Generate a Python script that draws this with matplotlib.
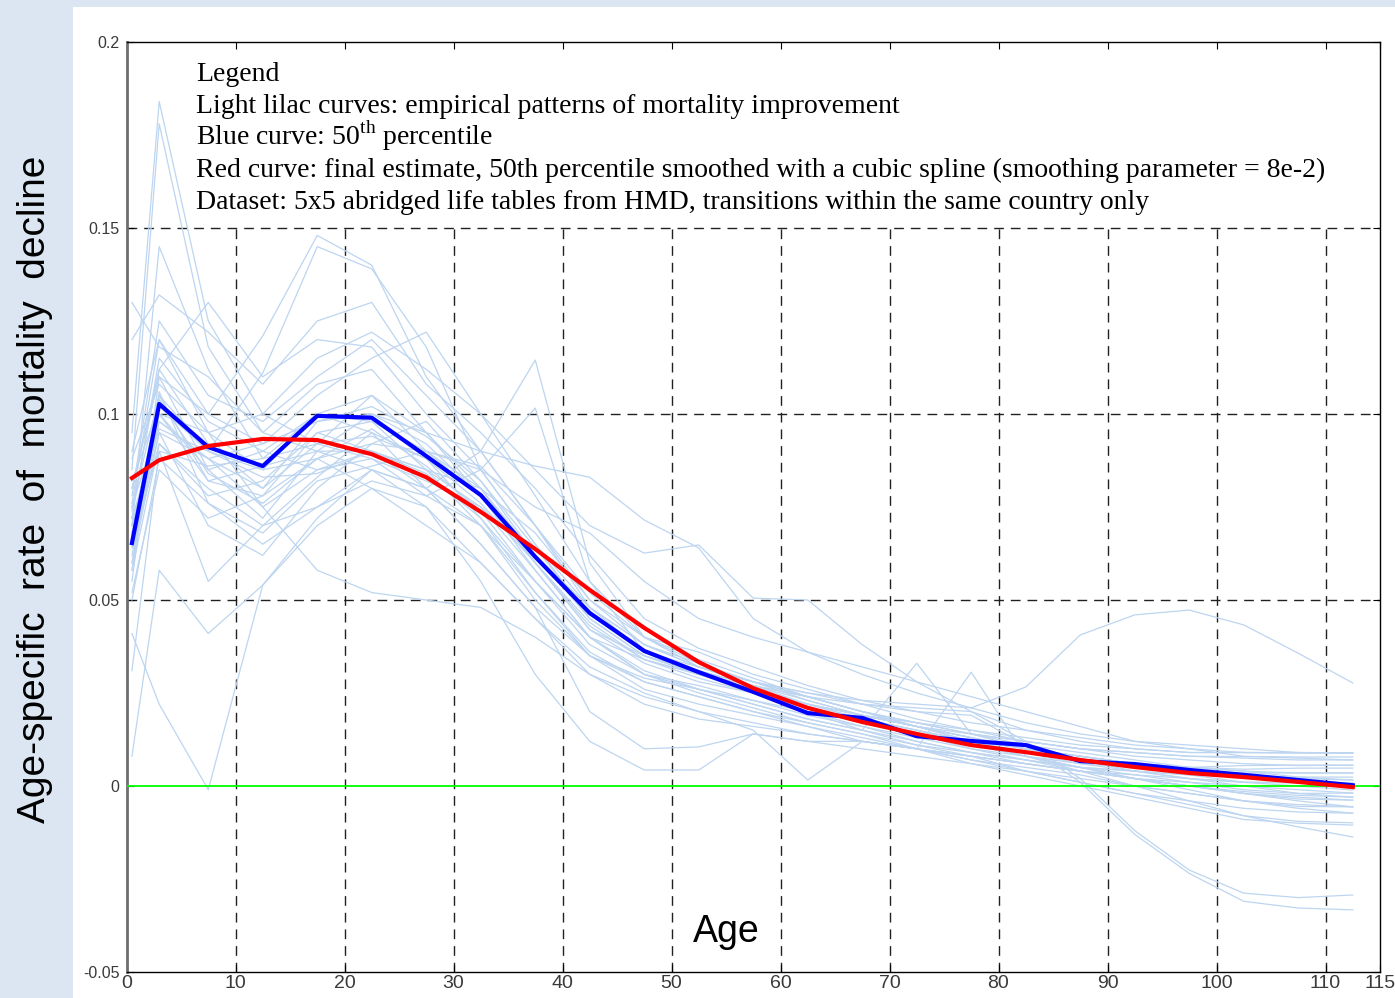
import matplotlib
matplotlib.use("Agg")
import matplotlib.pyplot as plt
from matplotlib.patches import Rectangle

# ---------------------------------------------------------------
# DATA
# ---------------------------------------------------------------
ages = [0.5, 3, 7.5, 12.5, 17.5, 22.5, 27.5, 32.5, 37.5, 42.5, 47.5, 52.5,
        57.5, 62.5, 67.5, 72.5, 77.5, 82.5, 87.5, 92.5, 97.5, 102.5, 107.5, 112.5]

median_curve = [0.0653, 0.1027, 0.0911, 0.0860, 0.0995, 0.0990, 0.0887, 0.0782,
                0.0616, 0.0465, 0.0363, 0.0306, 0.0253, 0.0196, 0.0183, 0.0134,
                0.0121, 0.0110, 0.0067, 0.0059, 0.0043, 0.0030, 0.0016, 0.0002]

smoothed_curve = [0.0828, 0.0876, 0.0914, 0.0933, 0.0930, 0.0892, 0.0830, 0.0737,
                  0.0637, 0.0527, 0.0425, 0.0333, 0.0263, 0.0210, 0.0172, 0.0140,
                  0.0110, 0.0091, 0.0070, 0.0051, 0.0035, 0.0024, 0.0011, -0.0003]

# empirical patterns (light lilac curves)
lilac_01 = [0.095, 0.184, 0.125, 0.100, 0.092, 0.105, 0.090, 0.080, 0.062, 0.045, 0.035, 0.030,
            0.026, 0.022, 0.019, 0.016, 0.013, 0.010, 0.008, 0.006, 0.004, 0.003, 0.002, 0.0016]
lilac_02 = [0.085, 0.178, 0.118, 0.095, 0.108, 0.112, 0.095, 0.078, 0.060, 0.042, 0.033, 0.028,
            0.025, 0.021, 0.018, 0.015, 0.012, 0.009, 0.006, 0.004, 0.002, 0.000, -0.001, -0.0019]
lilac_03 = [0.070, 0.145, 0.112, 0.088, 0.100, 0.098, 0.085, 0.075, 0.058, 0.040, 0.030, 0.027,
            0.023, 0.020, 0.016, 0.012, 0.009, 0.006, 0.004, 0.002, 0.001, 0.000, -0.002, -0.003]
lilac_04 = [0.130, 0.118, 0.110, 0.095, 0.090, 0.085, 0.080, 0.070, 0.055, 0.040, 0.034, 0.030,
            0.026, 0.022, 0.019, 0.017, 0.015, 0.013, 0.011, 0.010, 0.009, 0.009, 0.0089, 0.0089]
lilac_05 = [0.080, 0.112, 0.130, 0.110, 0.120, 0.118, 0.100, 0.085, 0.065, 0.048, 0.038, 0.032,
            0.028, 0.024, 0.020, 0.017, 0.014, 0.012, 0.010, 0.008, 0.007, 0.006, 0.0055, 0.0056]
lilac_06 = [0.090, 0.120, 0.100, 0.121, 0.148, 0.140, 0.110, 0.090, 0.070, 0.050, 0.038, 0.033,
            0.028, 0.023, 0.019, 0.016, 0.013, 0.010, 0.008, 0.006, 0.005, 0.004, 0.0035, 0.0035]
lilac_07 = [0.075, 0.105, 0.090, 0.111, 0.145, 0.139, 0.118, 0.085, 0.065, 0.045, 0.035, 0.031,
            0.027, 0.022, 0.018, 0.014, 0.010, 0.007, 0.004, 0.002, 0.000, -0.002, -0.0035, -0.0038]
lilac_08 = [0.041, 0.022, -0.001, 0.054, 0.070, 0.080, 0.075, 0.060, 0.045, 0.030, 0.022, 0.018,
            0.016, 0.014, 0.012, 0.010, 0.008, 0.006, 0.004, 0.002, 0.000, -0.002, -0.004, -0.0056]
lilac_09 = [0.008, 0.058, 0.041, 0.054, 0.072, 0.085, 0.080, 0.065, 0.048, 0.035, 0.026, 0.022,
            0.019, 0.016, 0.013, 0.010, 0.007, 0.004, 0.001, -0.002, -0.004, -0.006, -0.007, -0.0073]
lilac_10 = [0.031, 0.090, 0.055, 0.070, 0.083, 0.095, 0.088, 0.072, 0.055, 0.040, 0.030, 0.025,
            0.021, 0.017, 0.014, 0.011, 0.009, 0.007, 0.005, 0.004, 0.003, 0.0025, 0.0024, 0.0024]
lilac_11 = [0.060, 0.100, 0.095, 0.085, 0.100, 0.105, 0.095, 0.080, 0.060, 0.042, 0.035, 0.030,
            0.026, 0.022, 0.019, 0.016, 0.014, 0.012, 0.010, 0.009, 0.008, 0.0079, 0.0078, 0.0078]
lilac_12 = [0.055, 0.110, 0.085, 0.072, 0.090, 0.100, 0.092, 0.078, 0.058, 0.040, 0.031, 0.026,
            0.022, 0.018, 0.015, 0.012, 0.009, 0.007, 0.005, 0.004, 0.003, 0.001, 0.0008, 0.0008]
lilac_13 = [0.065, 0.095, 0.070, 0.062, 0.080, 0.092, 0.098, 0.082, 0.062, 0.046, 0.036, 0.030,
            0.025, 0.020, 0.015, 0.011, 0.008, 0.004, 0.001, -0.002, -0.005, -0.008, -0.0095, -0.0099]
lilac_14 = [0.072, 0.115, 0.098, 0.090, 0.085, 0.090, 0.085, 0.080, 0.068, 0.050, 0.040, 0.036,
            0.030, 0.026, 0.022, 0.018, 0.015, 0.012, 0.010, 0.009, 0.008, 0.0075, 0.007, 0.007]
lilac_15 = [0.050, 0.088, 0.076, 0.065, 0.075, 0.082, 0.078, 0.070, 0.052, 0.035, 0.028, 0.024,
            0.020, 0.017, 0.014, 0.010, 0.006, 0.003, 0.000, -0.003, -0.006, -0.009, -0.0100, -0.0105]
lilac_16 = [0.078, 0.125, 0.105, 0.098, 0.110, 0.120, 0.105, 0.090, 0.070, 0.048, 0.036, 0.031,
            0.027, 0.024, 0.020, 0.016, 0.012, 0.008, 0.004, 0.000, -0.004, -0.008, -0.011, -0.0137]
lilac_17 = [0.068, 0.105, 0.082, 0.078, 0.095, 0.098, 0.090, 0.078, 0.060, 0.043, 0.034, 0.030,
            0.027, 0.024, 0.022, 0.021, 0.020, 0.012, 0.002, -0.012, -0.0226, -0.0288, -0.030, -0.0293]
lilac_18 = [0.074, 0.112, 0.092, 0.080, 0.098, 0.102, 0.094, 0.082, 0.064, 0.046, 0.036, 0.032,
            0.028, 0.025, 0.022, 0.020, 0.019, 0.011, 0.001, -0.013, -0.0235, -0.031, -0.0328, -0.0333]
lilac_19 = [0.062, 0.098, 0.088, 0.075, 0.085, 0.088, 0.082, 0.075, 0.062, 0.048, 0.038, 0.032,
            0.028, 0.025, 0.023, 0.022, 0.021, 0.0266, 0.0406, 0.046, 0.0473, 0.0433, 0.0357, 0.0277]
lilac_20 = [0.058, 0.092, 0.080, 0.070, 0.075, 0.085, 0.075, 0.055, 0.030, 0.012, 0.0043, 0.0043,
            0.014, 0.012, 0.010, 0.008, 0.006, 0.004, 0.002, 0.000, -0.002, -0.004, -0.005, -0.0056]
lilac_21 = [0.088, 0.108, 0.095, 0.100, 0.115, 0.122, 0.112, 0.100, 0.085, 0.070, 0.0626, 0.0648,
            0.0505, 0.050, 0.038, 0.028, 0.020, 0.015, 0.012, 0.010, 0.009, 0.009, 0.0089, 0.0089]
lilac_22 = [0.070, 0.100, 0.085, 0.090, 0.100, 0.095, 0.080, 0.090, 0.1145, 0.060, 0.040, 0.032,
            0.027, 0.023, 0.019, 0.016, 0.013, 0.010, 0.008, 0.006, 0.005, 0.0045, 0.0048, 0.0048]
lilac_23 = [0.060, 0.095, 0.088, 0.080, 0.092, 0.088, 0.078, 0.085, 0.1016, 0.055, 0.036, 0.030,
            0.026, 0.022, 0.018, 0.015, 0.011, 0.008, 0.005, 0.002, 0.000, -0.0015, -0.0025, -0.003]
lilac_24 = [0.080, 0.110, 0.100, 0.092, 0.105, 0.115, 0.122, 0.100, 0.078, 0.055, 0.040, 0.033,
            0.028, 0.024, 0.020, 0.017, 0.014, 0.011, 0.009, 0.007, 0.005, 0.004, 0.0024, 0.0016]
lilac_25 = [0.082, 0.102, 0.090, 0.085, 0.088, 0.092, 0.090, 0.085, 0.075, 0.068, 0.055, 0.045,
            0.040, 0.036, 0.032, 0.028, 0.024, 0.020, 0.016, 0.012, 0.010, 0.008, 0.0075, 0.0070]
lilac_26 = [0.066, 0.104, 0.084, 0.076, 0.088, 0.096, 0.086, 0.074, 0.055, 0.038, 0.030, 0.026,
            0.022, 0.018, 0.015, 0.033, 0.014, 0.010, 0.007, 0.004, 0.002, 0.001, 0.000, -0.0011]
lilac_27 = [0.072, 0.096, 0.090, 0.083, 0.084, 0.090, 0.084, 0.072, 0.052, 0.036, 0.028, 0.024,
            0.020, 0.016, 0.012, 0.010, 0.0306, 0.008, 0.005, 0.003, 0.001, -0.001, -0.002, -0.0019]
lilac_28 = [0.052, 0.085, 0.072, 0.078, 0.088, 0.080, 0.070, 0.060, 0.045, 0.032, 0.025, 0.020,
            0.015, 0.0016, 0.012, 0.010, 0.008, 0.006, 0.004, 0.002, 0.000, -0.002, -0.003, -0.0038]
lilac_29 = [0.064, 0.092, 0.078, 0.082, 0.095, 0.090, 0.085, 0.070, 0.050, 0.035, 0.029, 0.026,
            0.023, 0.019, 0.016, 0.013, 0.010, 0.008, 0.006, 0.005, 0.004, 0.0035, 0.0035, 0.0035]
lilac_30 = [0.076, 0.120, 0.095, 0.075, 0.058, 0.052, 0.050, 0.048, 0.040, 0.030, 0.024, 0.020,
            0.017, 0.014, 0.012, 0.010, 0.008, 0.006, 0.004, 0.003, 0.002, 0.001, 0.0010, 0.0008]
lilac_31 = [0.120, 0.132, 0.122, 0.108, 0.125, 0.130, 0.108, 0.095, 0.080, 0.062, 0.045, 0.037,
            0.032, 0.027, 0.023, 0.020, 0.017, 0.015, 0.013, 0.011, 0.010, 0.009, 0.009, 0.0089]
lilac_32 = [0.070, 0.100, 0.082, 0.086, 0.090, 0.090, 0.080, 0.065, 0.048, 0.020, 0.010, 0.0105,
            0.014, 0.012, 0.012, 0.010, 0.007, 0.005, 0.003, 0.000, -0.002, -0.004, -0.0055, -0.0056]
lilac_33 = [0.068, 0.090, 0.086, 0.088, 0.092, 0.094, 0.088, 0.076, 0.060, 0.044, 0.034, 0.029,
            0.025, 0.021, 0.018, 0.015, 0.012, 0.010, 0.008, 0.006, 0.005, 0.0055, 0.0056, 0.0056]
lilac_34 = [0.058, 0.106, 0.076, 0.068, 0.082, 0.086, 0.090, 0.086, 0.070, 0.052, 0.040, 0.034,
            0.029, 0.024, 0.020, 0.016, 0.012, 0.008, 0.005, 0.002, -0.001, -0.004, -0.006, -0.0073]
lilac_35 = [0.075, 0.098, 0.088, 0.092, 0.098, 0.100, 0.095, 0.090, 0.086, 0.083, 0.0715, 0.064,
            0.045, 0.036, 0.030, 0.025, 0.021, 0.017, 0.014, 0.012, 0.011, 0.010, 0.0090, 0.0089]

lilac_curves = [lilac_01, lilac_02, lilac_03, lilac_04, lilac_05, lilac_06, lilac_07,
                lilac_08, lilac_09, lilac_10, lilac_11, lilac_12, lilac_13, lilac_14,
                lilac_15, lilac_16, lilac_17, lilac_18, lilac_19, lilac_20, lilac_21,
                lilac_22, lilac_23, lilac_24, lilac_25, lilac_26, lilac_27, lilac_28,
                lilac_29, lilac_30, lilac_31, lilac_32, lilac_33, lilac_34, lilac_35]

x_ticks = [0, 10, 20, 30, 40, 50, 60, 70, 80, 90, 100, 110, 115]
y_ticks = [-0.05, 0, 0.05, 0.1, 0.15, 0.2]
y_tick_labels = ["-0.05", "0", "0.05", "0.1", "0.15", "0.2"]

legend_lines = [
    "Legend",
    "Light lilac curves: empirical patterns of mortality improvement",
    r"Blue curve: 50$^{\rm th}$ percentile",
    "Red curve: final estimate, 50th percentile smoothed with a cubic spline (smoothing parameter = 8e-2)",
    "Dataset: 5x5 abridged life tables from HMD, transitions within the same country only",
]

# ---------------------------------------------------------------
# STYLE
# ---------------------------------------------------------------
W, H = 1395, 998
BG = "#dce6f2"
LILAC = "#bdd5f0"
TICK_GRAY = "#3a3a3a"

plt.rcParams["mathtext.fontset"] = "custom"
plt.rcParams["mathtext.rm"] = "Liberation Serif"

fig = plt.figure(figsize=(W / 100, H / 100), dpi=100)
fig.patch.set_facecolor(BG)
fig.add_artist(Rectangle((73 / W, 0), 1 - 73 / W, (H - 7) / H,
                         transform=fig.transFigure, facecolor="white",
                         edgecolor="none", zorder=0))

ax = fig.add_axes([126.5 / W, 26 / H, (1380 - 126.5) / W, (972 - 42) / H])
ax.set_facecolor("white")

for curve in lilac_curves:
    ax.plot(ages, curve, color=LILAC, lw=0.9, zorder=2)

ax.axhline(0, color="#00ff00", lw=1.3, zorder=3)
ax.plot(ages, median_curve, color="#0000ff", lw=3.0, zorder=4)
ax.plot(ages, smoothed_curve, color="#ff0000", lw=3.0, zorder=5)

ax.set_xlim(0, 115)
ax.set_ylim(-0.05, 0.2)
ax.set_xticks(x_ticks)
ax.set_xticklabels([str(t) for t in x_ticks], fontsize=14,
                   family="Liberation Sans", color=TICK_GRAY)
ax.set_yticks(y_ticks)
ax.set_yticklabels(y_tick_labels, fontsize=11.5,
                   family="Liberation Sans", color=TICK_GRAY)
ax.tick_params(axis="both", direction="in", length=5, top=True, right=True,
               color="black")
ax.tick_params(axis="x", pad=2)
ax.tick_params(axis="y", pad=5)

# dashed grid; the vertical lines stop under the legend block
for xv in x_ticks[1:-1]:
    ax.vlines(xv, -0.05, 0.15, color="#202020", lw=1.0, linestyles=(0, (7, 5)), zorder=1)
for yv in [0.05, 0.1, 0.15]:
    ax.axhline(yv, color="#202020", lw=1.0, dashes=(7, 5), zorder=1)

for side in ["top", "right", "bottom"]:
    ax.spines[side].set_color("black")
    ax.spines[side].set_linewidth(1.0)
ax.spines["left"].set_color("#6e6e6e")
ax.spines["left"].set_linewidth(2.0)

# legend block (serif text)
for i, line in enumerate(legend_lines):
    fig.text(196 / W, 1 - (81 + 32 * i) / H, line, fontsize=20,
             family="Liberation Serif", color="black", va="baseline", ha="left")

# axis titles
fig.text(726 / W, 1 - 942 / H, "Age", fontsize=27, family="Liberation Sans",
         ha="center", va="baseline")
fig.text(35 / W, 1 - 489 / H, "Age-specific  rate  of  mortality  decline",
         fontsize=28, family="Liberation Sans", rotation=90,
         ha="center", va="center")

fig.savefig("out.png", dpi=100, facecolor=fig.get_facecolor())
